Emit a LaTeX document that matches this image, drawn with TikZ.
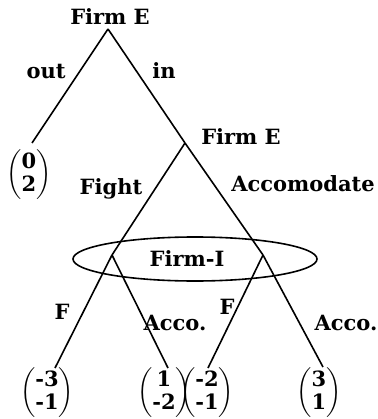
\documentclass[tikz,border=0pt]{standalone}
\usepackage{amsmath}
\usepackage{fontspec}
\setmainfont{DejaVu Serif}
\usetikzlibrary{shapes.geometric}

\newcommand{\payoff}[2]{$\left(\begin{array}{@{}c@{}}\textbf{#1}\\\textbf{#2}\end{array}\right)$}

\tikzset{
  branch/.style={line width=1.6pt},
  infoset/.style={draw, ellipse, line width=1.6pt, minimum width=244pt, minimum height=44pt},
}

\begin{document}
\begin{tikzpicture}[x=1pt, y=-1pt, every node/.style={font=\fontsize{21}{23}\selectfont\bfseries, inner sep=0pt}]
    \useasboundingbox (0,0) rectangle (377,419);

    % Noeuds de decision
    \coordinate (root) at (108,29);
    \coordinate (entrant) at (185,143);
    \coordinate (fightnode) at (112,255);
    \coordinate (accnode) at (263,255);

    % Fins de branches
    \coordinate (outend) at (32,143);
    \coordinate (ffend) at (55,368);
    \coordinate (faend) at (168,368);
    \coordinate (afend) at (208,368);
    \coordinate (aaend) at (323,367);

    % Ensemble d'information
    \node[infoset] (infoset) at (195,259) {};
    \node (firmI) at (187,259) {Firm-I};

    % Joueurs
    \node (firmEtop) at (110,17) {Firm E};
    \node (firmEmid) at (241,137) {Firm E};

    % Branches
    \draw[branch] (root) -- (outend);
    \draw[branch] (root) -- (entrant);
    \draw[branch] (entrant) -- (fightnode);
    \draw[branch] (entrant) -- (accnode);
    \draw[branch] (fightnode) -- (ffend);
    \draw[branch] (fightnode) -- (faend);
    \draw[branch] (accnode) -- (afend);
    \draw[branch] (accnode) -- (aaend);

    % Actions
    \node (outlbl) at (46,72) {out};
    \node (inlbl) at (164,71) {in};
    \node (fightlbl) at (111,189) {Fight};
    \node (acclbl) at (303,184) {Accomodate};
    \node (flblL) at (62,312) {F};
    \node (acclblL) at (175,323) {Acco.};
    \node (flblR) at (227,307) {F};
    \node (acclblR) at (346,323) {Acco.};

    % Gains
    \node (pout) at (29,175) {\payoff{0}{2}};
    \node (pff) at (47,393) {\payoff{-3}{-1}};
    \node (pfa) at (164,393) {\payoff{1}{-2}};
    \node (paf) at (207,393) {\payoff{-2}{-1}};
    \node (paa) at (319,393) {\payoff{3}{1}};
\end{tikzpicture}
\end{document}
